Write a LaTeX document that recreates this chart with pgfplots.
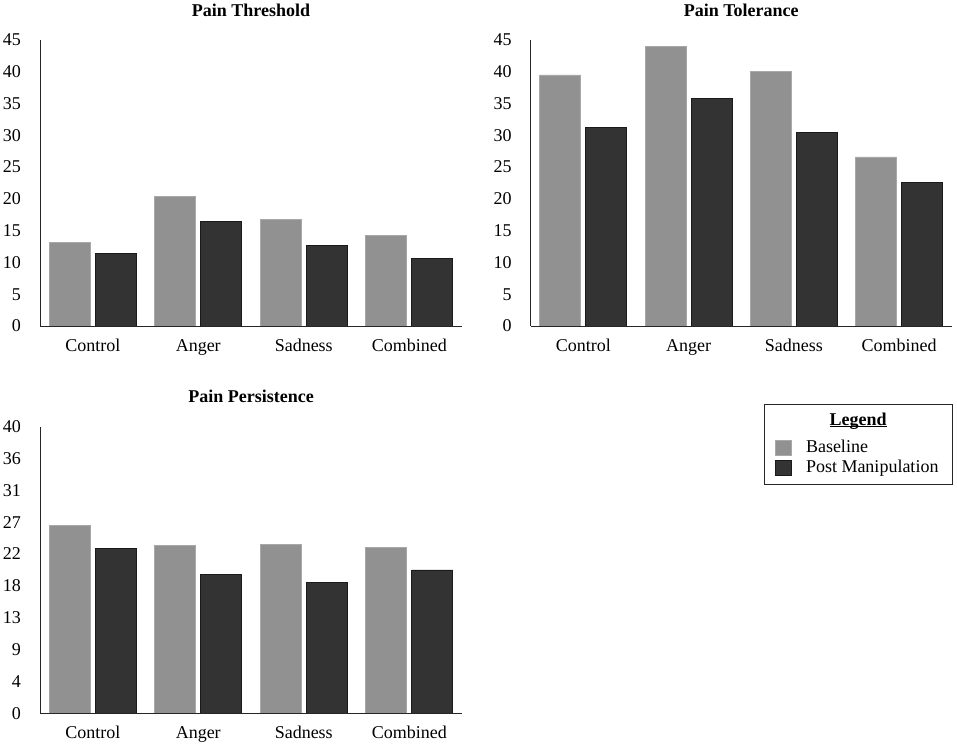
\documentclass[border=0pt]{standalone}
\usepackage{pgfplots}
\pgfplotsset{compat=1.18}
\usepackage{fontspec}
\setmainfont{Liberation Serif}
\newcommand\f{\fontsize{18}{21}\selectfont}
\definecolor{barA}{HTML}{919191}
\definecolor{barAedge}{HTML}{A8A8A8}
\definecolor{barB}{HTML}{333333}
\definecolor{barBedge}{HTML}{1A1A1A}
\pgfplotsset{
  mybar/.style={
    scale only axis, width=422pt, height=286pt,
    axis x line*=bottom, axis y line*=left,
    axis line style={-, draw=black!85, line width=0.8pt},
    axis on top,
    xmin=-0.5, xmax=3.5, ymin=0,
    xtick={0,1,2,3}, xticklabels={Control,Anger,Sadness,Combined},
    major tick length=0pt,
    ybar=5pt, bar width=41pt,
    tick label style={font=\f},
    xticklabel style={yshift=-6pt, text height=13pt, text depth=4pt},
    yticklabel style={inner sep=0pt, xshift=-19pt},
    /pgf/number format/assume math mode=true,
    title style={at={(0.5,1)}, anchor=base, yshift=18pt, font=\f\bfseries},
    clip=false,
  },
  serA/.style={fill=barA, draw=barAedge, line width=0.8pt},
  serB/.style={fill=barB, draw=barBedge, line width=0.8pt},
}
\begin{document}
\f
\begin{tikzpicture}[x=1pt,y=1pt]
\useasboundingbox (0,0) rectangle (957,-745);
% Panel 1
\begin{axis}[mybar, at={(40pt,-326pt)}, anchor=south west,
  ymax=45, ytick={0,5,...,45}, title={Pain Threshold}]
\addplot[serA] coordinates {(0,13.2) (1,20.4) (2,16.8) (3,14.2)};
\addplot[serB] coordinates {(0,11.4) (1,16.4) (2,12.7) (3,10.7)};
\end{axis}
% Panel 2
\begin{axis}[mybar, at={(530.7pt,-326pt)}, anchor=south west, width=421pt,
  ymax=45, ytick={0,5,...,45}, title={Pain Tolerance}]
\addplot[serA] coordinates {(0,39.5) (1,44.0) (2,40.1) (3,26.6)};
\addplot[serB] coordinates {(0,31.2) (1,35.8) (2,30.5) (3,22.6)};
\end{axis}
% Panel 3
\begin{axis}[mybar, at={(40pt,-713.3pt)}, anchor=south west, height=286.7pt,
  ymax=40,
  ytick={0,4.4444,8.8889,13.3333,17.7778,22.2222,26.6667,31.1111,35.5556,40},
  yticklabels={0,4,9,13,18,22,27,31,36,40},
  title={Pain Persistence},
  legend style={at={(axis description cs:1.7417,0.955)}, anchor=north west,
    draw=none, fill=none, inner sep=0pt, row sep=4.5pt,
    nodes={font=\f, inner sep=0pt},
    /tikz/every odd column/.append style={column sep=14pt}},
  legend cell align=left,
  legend image code/.code={\draw[#1] (0pt,-7.5pt) rectangle (16pt,7.5pt);}]
\addplot[serA] coordinates {(0,26.2) (1,23.4) (2,23.5) (3,23.2)};
\addlegendentry{Baseline}
\addplot[serB] coordinates {(0,23.0) (1,19.4) (2,18.3) (3,20.0)};
\addlegendentry{Post Manipulation}
\end{axis}
% Legend frame and heading
\draw[black!85, line width=0.8pt] (764,-404) rectangle (952,-484);
\node[anchor=base, font=\f\bfseries, inner sep=0pt] at (858,-425)
  {\setbox0\hbox{Legend}\rlap{\rule[-2pt]{\wd0}{0.9pt}}\box0};
\end{tikzpicture}
\end{document}
